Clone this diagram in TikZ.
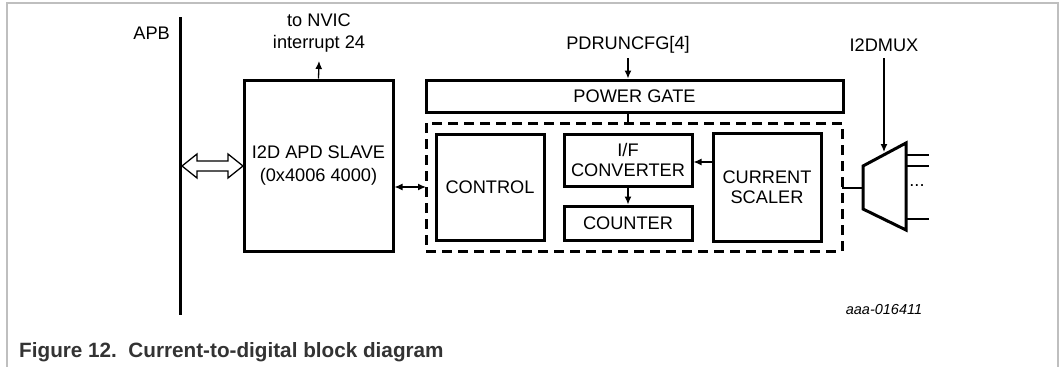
\documentclass[tikz,border=0pt]{standalone}
\usepackage{fontspec}
\setmainfont{Liberation Sans}
\usetikzlibrary{arrows.meta,positioning}

\begin{document}
\begin{tikzpicture}[
    x = 1pt, y = -1pt, % pixel grid of the drawing
    >={Latex[length=8pt,width=7pt]}, % arrow head style
    font = \fontsize{18.2}{20.5}\selectfont,
    thin line/.style = {line width=1.3pt},
    ]

    \tikzset{block/.style={
    draw = black,
    line width = 3pt,
    fill = white,
    inner sep = 0pt,
    align = center
    }}
    \tikzset{label text/.style={align=center, inner sep=0pt}}

    % frame of the page
    \useasboundingbox (0,0) rectangle (1061,367);
    \draw[black!25, line width=1.5pt] (7,367) -- (7,3) -- (1058,3) -- (1058,367);

    % bus
    \coordinate (apbtop) at (180,17);
    \coordinate (apbbot) at (180,315);
    \draw[line width=3pt] (apbtop) -- (apbbot);
    \node[label text, anchor=east] (apb) at (170,33) {APB};

    % blocks
    \node[block, minimum width=149, minimum height=171] (slave) at (318.5,165.5)
        {I2D APD SLAVE\\[2pt](0x4006 4000)};
    \node[block, minimum width=417, minimum height=32] (gate) at (634.5,96) {POWER GATE};
    \draw[line width=3pt, dash pattern=on 10pt off 6pt] (426,123) rectangle (842,251);
    \coordinate (domtop) at (628,123);
    \coordinate (domleft) at (426,187);
    \coordinate (domright) at (842,188);
    \node[block, minimum width=108, minimum height=106] (control) at (490,187) {CONTROL};
    \node[block, minimum width=128, minimum height=52] (conv) at (628,160) {I/F\\CONVERTER};
    \node[block, minimum width=128, minimum height=34] (counter) at (628,223) {COUNTER};
    \node[block, minimum width=108, minimum height=108] (scaler) at (767,187) {CURRENT\\SCALER};

    % mux
    \draw[line width=3pt, fill=white] (863,166) -- (906,143) -- (906,230) -- (863,209) -- cycle;
    \coordinate (muxin) at (863,188);
    \coordinate (muxsel) at (884,152);
    \foreach \y [count=\i] in {155,166,219} {
        \coordinate (out\i) at (906,\y);
        \coordinate (end\i) at (929,\y);
        \draw[thin line] (out\i) -- (end\i);
    }
    \node[label text] (dots) at (917,186) {...};

    % labels
    \node[label text] (nvic) at (319,33) {to NVIC\\[1pt]interrupt 24};
    \node[label text] (pdrun) at (628,45) {PDRUNCFG[4]};
    \node[label text] (i2dmux) at (884,45) {I2DMUX};
    \node[label text, font=\fontsize{14.5}{16}\selectfont\itshape] (docid) at (884,310) {aaa-016411};
    \node[anchor=west, inner sep=0pt, text=black!80,
        font=\fontsize{20.7}{24}\selectfont\bfseries] (caption) at (19,352)
        {Figure 12.\ \ Current-to-digital block diagram};

    % connections
    \draw[thin line,->] (slave.north) -- (319,61);
    \draw[thin line,->] (628,58) -- (gate.north -| pdrun);
    \draw[thin line] (gate.south -| domtop) -- (domtop);
    \draw[thin line,<->] (slave.east |- domleft) -- (domleft);
    \draw[thin line,->] (scaler.west |- 0,162) -- (conv.east |- 0,162);
    \draw[thin line,->] (conv.south) -- (counter.north);
    \draw[thin line] (domright) -- (muxin);
    \draw[thin line,->] (884,58) -- (muxsel);

    % hollow bus arrow
    \draw[line width=1.3pt, fill=white]
        (182,166) -- (197,154) -- (197,161) -- (228,161) -- (228,154) -- (243,166)
        -- (228,178) -- (228,171) -- (197,171) -- (197,178) -- cycle;
\end{tikzpicture}
\end{document}
